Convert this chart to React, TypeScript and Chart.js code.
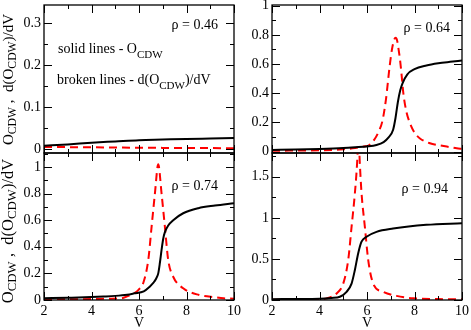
import React, { useEffect, useRef } from "react";
import { Chart, registerables } from "chart.js";
Chart.register(...registerables);

const PAGE_W = 471;
const PAGE_H = 330;
const FONT = "'Liberation Serif', 'Times New Roman', 'DejaVu Serif', serif";

// ---------- data ----------
// rho = 0.46
const vO46 = [2, 3, 4, 5, 6, 7, 8, 9, 10];
const o46 = [0.008, 0.011, 0.015, 0.018, 0.021, 0.0225, 0.024, 0.025, 0.026];
const vD46 = [2, 3, 4, 5, 6, 7, 8, 9, 10];
const d46 = [0.005, 0.0045, 0.004, 0.0035, 0.003, 0.0027, 0.0024, 0.0022, 0.002];

// rho = 0.64
const vO64 = [2, 3, 4, 5, 5.5, 6, 6.4, 6.7, 6.9, 7.1, 7.2, 7.3, 7.4, 7.5, 7.7, 8, 8.5, 9, 9.5, 10];
const o64 = [0.011, 0.014, 0.018, 0.024, 0.029, 0.035, 0.045, 0.065, 0.095, 0.15, 0.23, 0.34, 0.42, 0.47, 0.53, 0.565, 0.59, 0.605, 0.615, 0.624];
const vD64 = [2, 3, 4, 5, 5.5, 5.85, 6.1, 6.3, 6.5, 6.65, 6.8, 6.95, 7.05, 7.15, 7.21, 7.27, 7.33, 7.39, 7.46, 7.53, 7.65, 7.81, 8.0, 8.23, 8.65, 9.0, 9.36, 9.78, 10];
const d64 = [0.005, 0.007, 0.009, 0.015, 0.024, 0.034, 0.045, 0.08, 0.14, 0.21, 0.36, 0.58, 0.7, 0.77, 0.78, 0.76, 0.7, 0.63, 0.52, 0.4, 0.28, 0.194, 0.13, 0.09, 0.057, 0.044, 0.034, 0.022, 0.018];

// rho = 0.74
const vO74 = [2, 3, 4, 4.5, 5, 5.5, 5.8, 6.2, 6.45, 6.6, 6.72, 6.81, 6.88, 6.95, 7.02, 7.09, 7.23, 7.44, 7.86, 8.5, 9.2, 10];
const o74 = [0.013, 0.017, 0.022, 0.026, 0.031, 0.04, 0.05, 0.065, 0.1, 0.128, 0.16, 0.2, 0.28, 0.376, 0.46, 0.51, 0.56, 0.6, 0.652, 0.69, 0.71, 0.728];
const vD74 = [2, 3, 4, 4.7, 5.26, 5.53, 5.79, 6.0, 6.18, 6.39, 6.53, 6.67, 6.81, 6.95, 7.09, 7.23, 7.44, 7.86, 8.53, 9.23, 9.56, 10];
const d74 = [0.004, 0.005, 0.007, 0.01, 0.013, 0.03, 0.05, 0.08, 0.128, 0.3, 0.55, 0.8, 1.02, 0.8, 0.55, 0.3, 0.175, 0.088, 0.038, 0.02, 0.013, 0.01];

// rho = 0.94
const vO94 = [2, 3, 4, 4.5, 4.86, 5.14, 5.35, 5.49, 5.63, 5.77, 5.98, 6.4, 7.1, 8.5, 10];
const o94 = [0.01, 0.012, 0.015, 0.025, 0.04, 0.1, 0.2, 0.366, 0.57, 0.71, 0.77, 0.83, 0.87, 0.915, 0.935];
const vD94 = [2, 3, 3.8, 4.3, 4.72, 5.0, 5.21, 5.35, 5.49, 5.58, 5.64, 5.7, 5.77, 5.91, 6.05, 6.26, 6.68, 7.24, 7.94, 9.35, 10];
const d94 = [0.003, 0.004, 0.007, 0.02, 0.08, 0.2, 0.49, 0.89, 1.3, 1.65, 2.0, 1.65, 1.3, 0.89, 0.49, 0.2, 0.1, 0.05, 0.02, 0.01, 0.008];

// ---------- ticks / labels ----------
const xTicks = [2, 4, 6, 8, 10];
const yTicks46 = [0, 0.1, 0.2, 0.3];
const yTicks64 = [0, 0.2, 0.4, 0.6, 0.8, 1];
const yTicks74 = [0, 0.2, 0.4, 0.6, 0.8, 1];
const yTicks94 = [0, 0.5, 1, 1.5];
const rhoLabels = ["ρ = 0.46", "ρ = 0.64", "ρ = 0.74", "ρ = 0.94"];
const xTitle = "V";

type Part = { t: string; sub?: boolean };
const yTitleParts: Part[] = [
  { t: "O" }, { t: "CDW", sub: true }, { t: " ,  d(O" }, { t: "CDW", sub: true }, { t: ")/dV" },
];
const legendSolid: Part[] = [{ t: "solid lines - O" }, { t: "CDW", sub: true }];
const legendBroken: Part[] = [{ t: "broken lines - d(O" }, { t: "CDW", sub: true }, { t: ")/dV" }];

function toPts(xs: number[], ys: number[]) {
  return xs.map((x, i) => ({ x, y: ys[i] }));
}

function richWidth(ctx: CanvasRenderingContext2D, parts: Part[], size: number, subSize: number) {
  let w = 0;
  for (const p of parts) {
    ctx.font = `${p.sub ? subSize : size}px ${FONT}`;
    w += ctx.measureText(p.t).width;
  }
  return w;
}
function drawRich(ctx: CanvasRenderingContext2D, parts: Part[], x: number, y: number, size: number, subSize: number, subDy: number) {
  let cx = x;
  ctx.textAlign = "left";
  ctx.textBaseline = "alphabetic";
  for (const p of parts) {
    ctx.font = `${p.sub ? subSize : size}px ${FONT}`;
    ctx.fillText(p.t, cx, p.sub ? y + subDy : y);
    cx += ctx.measureText(p.t).width;
  }
}

type Panel = {
  area: { left: number; top: number; right: number; bottom: number };
  yMin: number; yMax: number; yTicks: number[]; yMinor: number; yMajor: number;
  o: { x: number; y: number }[]; d: { x: number; y: number }[];
  rho: string; rhoRight: number; rhoBase: number;
  showX: boolean; yTitle: boolean; legend: boolean; yTitleCenter: number; yTitleSize: number;
};

const panels: Panel[] = [
  { area: { left: 44, top: 5, right: 234, bottom: 153 }, yMin: -0.0095, yMax: 0.343, yTicks: yTicks46, yMinor: 0.05, yMajor: 0.1,
    o: toPts(vO46, o46), d: toPts(vD46, d46), rho: rhoLabels[0], rhoRight: 16, rhoBase: 24, showX: false, yTitle: true, legend: true, yTitleCenter: 79.5, yTitleSize: 15 },
  { area: { left: 272, top: 5, right: 462, bottom: 153 }, yMin: -0.01, yMax: 1.005, yTicks: yTicks64, yMinor: 0.1, yMajor: 0.2,
    o: toPts(vO64, o64), d: toPts(vD64, d64), rho: rhoLabels[1], rhoRight: 12, rhoBase: 27, showX: false, yTitle: false, legend: false, yTitleCenter: 0, yTitleSize: 15 },
  { area: { left: 44, top: 153, right: 234, bottom: 300 }, yMin: 0, yMax: 1.105, yTicks: yTicks74, yMinor: 0.1, yMajor: 0.2,
    o: toPts(vO74, o74), d: toPts(vD74, d74), rho: rhoLabels[2], rhoRight: 16, rhoBase: 37, showX: true, yTitle: true, legend: false, yTitleCenter: 231, yTitleSize: 16.5 },
  { area: { left: 272, top: 153, right: 462, bottom: 300 }, yMin: 0, yMax: 1.79, yTicks: yTicks94, yMinor: 0.25, yMajor: 0.5,
    o: toPts(vO94, o94), d: toPts(vD94, d94), rho: rhoLabels[3], rhoRight: 14, rhoBase: 40, showX: true, yTitle: false, legend: false, yTitleCenter: 0, yTitleSize: 15 },
];

const Y_AXIS_W = 40;
const X_AXIS_H = 30;

function makePlugin(p: Panel) {
  return {
    id: "frameTicks",
    afterDatasetsDraw(chart: any) {
      const { ctx, chartArea: a } = chart;
      const xs = chart.scales.x;
      const ys = chart.scales.y;
      ctx.save();
      ctx.strokeStyle = "#000";
      ctx.lineWidth = 1.3;
      ctx.strokeRect(a.left, a.top, a.right - a.left, a.bottom - a.top);
      ctx.lineWidth = 1;
      ctx.beginPath();
      for (let v = 2; v <= 10 + 1e-9; v += 1) {
        const px = Math.round(xs.getPixelForValue(v)) + 0.5;
        const len = v % 2 === 0 ? 8 : 4;
        ctx.moveTo(px, a.bottom); ctx.lineTo(px, a.bottom - len);
        ctx.moveTo(px, a.top); ctx.lineTo(px, a.top + len);
      }
      const start = Math.ceil((ys.min - 1e-9) / p.yMinor) * p.yMinor;
      for (let v = start; v <= ys.max + 1e-9; v += p.yMinor) {
        const py = Math.round(ys.getPixelForValue(v)) + 0.5;
        const r = v / p.yMajor;
        const len = Math.abs(r - Math.round(r)) < 1e-6 ? 8 : 4;
        ctx.moveTo(a.left, py); ctx.lineTo(a.left + len, py);
        ctx.moveTo(a.right, py); ctx.lineTo(a.right - len, py);
      }
      ctx.stroke();

      ctx.fillStyle = "#000";
      ctx.font = `14px ${FONT}`;
      ctx.textAlign = "right";
      ctx.textBaseline = "alphabetic";
      ctx.fillText(p.rho, a.right - p.rhoRight, a.top + p.rhoBase);

      if (p.legend) {
        drawRich(ctx, legendSolid, a.left + 14, a.top + 48, 14, 11, 4.5);
        drawRich(ctx, legendBroken, a.left + 13, a.top + 79, 14, 11, 4.5);
      }
      if (p.yTitle) {
        const sz = p.yTitleSize;
        const sub = sz * 0.78;
        const w = richWidth(ctx, yTitleParts, sz, sub);
        ctx.translate(12.5, p.yTitleCenter);
        ctx.rotate(-Math.PI / 2);
        drawRich(ctx, yTitleParts, -w / 2, 0, sz, sub, 3);
      }
      ctx.restore();
    },
  };
}

function PanelChart({ p }: { p: Panel }) {
  const ref = useRef<HTMLCanvasElement | null>(null);
  useEffect(() => {
    if (!ref.current) return;
    const a = p.area;
    const chart = new Chart(ref.current, {
      type: "line",
      data: {
        datasets: [
          { data: p.o, borderColor: "#000000", borderWidth: 2, pointRadius: 0, cubicInterpolationMode: "monotone", fill: false },
          { data: p.d, borderColor: "#ff0000", borderWidth: 2, borderDash: [8, 5], pointRadius: 0, cubicInterpolationMode: "monotone", fill: false },
        ],
      },
      options: {
        responsive: false,
        animation: false,
        devicePixelRatio: 1,
        events: [],
        layout: {
          padding: {
            left: a.left - Y_AXIS_W,
            top: a.top,
            right: PAGE_W - a.right,
            bottom: p.showX ? PAGE_H - a.bottom - X_AXIS_H : PAGE_H - a.bottom,
          },
        },
        plugins: { legend: { display: false }, tooltip: { enabled: false }, title: { display: false } },
        scales: {
          x: {
            type: "linear",
            min: 2,
            max: 10,
            grid: { display: false, drawTicks: false },
            border: { display: false },
            ticks: { display: p.showX, padding: 3, color: "#000", font: { family: FONT, size: 14 }, maxRotation: 0, autoSkip: false, callback: (v: any) => String(v) },
            title: { display: p.showX, text: xTitle, color: "#000", font: { family: FONT, size: 14, lineHeight: 1 }, padding: 0 },
            afterBuildTicks: (s: any) => { s.ticks = xTicks.map((v) => ({ value: v })); },
            afterFit: (s: any) => { s.height = p.showX ? X_AXIS_H : 0; s.paddingLeft = 0; s.paddingRight = 0; },
          },
          y: {
            type: "linear",
            min: p.yMin,
            max: p.yMax,
            grid: { display: false, drawTicks: false },
            border: { display: false },
            ticks: { padding: 3, color: "#000", font: { family: FONT, size: 14 }, autoSkip: false, callback: (v: any) => String(v) },
            afterBuildTicks: (s: any) => { s.ticks = p.yTicks.map((v) => ({ value: v })); },
            afterFit: (s: any) => { s.width = Y_AXIS_W; s.paddingTop = 0; s.paddingBottom = 0; },
          },
        },
      } as any,
      plugins: [makePlugin(p)],
    });
    return () => chart.destroy();
  }, [p]);
  return (
    <canvas
      ref={ref}
      width={PAGE_W}
      height={PAGE_H}
      style={{ position: "absolute", left: 0, top: 0, width: PAGE_W, height: PAGE_H }}
    />
  );
}

export default function App() {
  return (
    <div style={{ position: "fixed", left: 0, top: 0, width: PAGE_W, height: PAGE_H, overflow: "hidden", background: "#fff" }}>
      {panels.map((p, i) => (
        <PanelChart key={i} p={p} />
      ))}
    </div>
  );
}
